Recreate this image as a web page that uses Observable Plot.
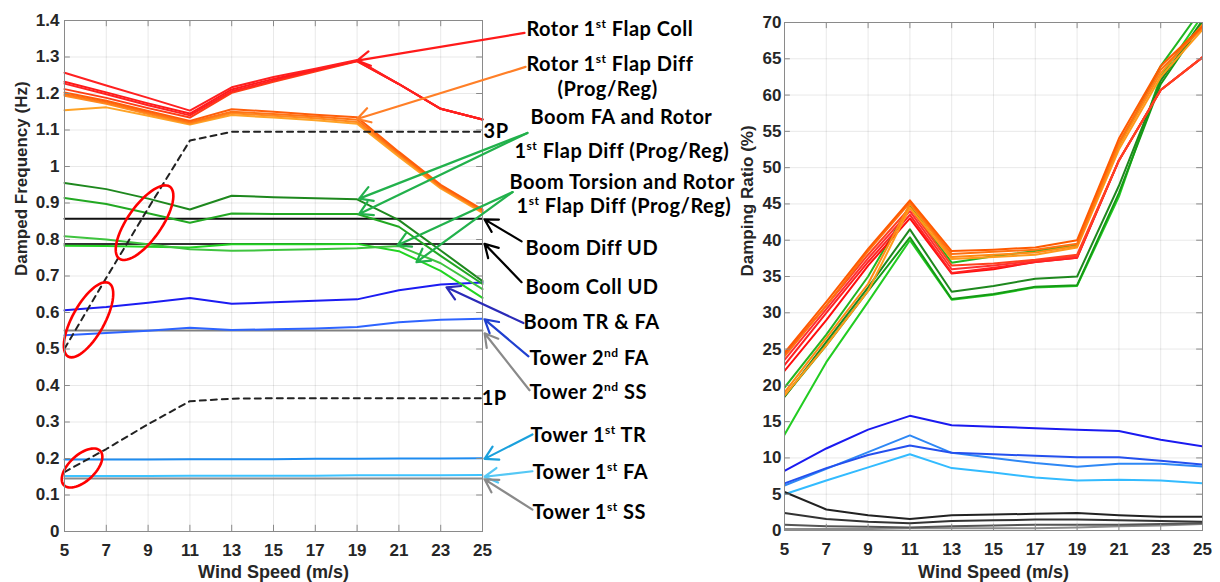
<!DOCTYPE html>
<html>
<head>
<meta charset="utf-8">
<script src="https://cdn.jsdelivr.net/npm/d3@7"></script>
<script src="https://cdn.jsdelivr.net/npm/@observablehq/plot@0.6"></script>
<style>
  body { margin: 0; background: #fff; }
  #fig { position: relative; width: 1220px; height: 582px; overflow: hidden; background: #fff; }
  .panel { position: absolute; top: 0; }
</style>
</head>
<body>
<div id="fig">
  <div id="left" class="panel" style="left:0;width:740px"></div>
  <div id="right" class="panel" style="left:735px;width:485px"></div>
</div>
<script>
// ---- wind speeds and tick labels ----
const windSpeed = [5, 7, 9, 11, 13, 15, 17, 19, 21, 23, 25];
const xTicks = [5, 7, 9, 11, 13, 15, 17, 19, 21, 23, 25];
const freqTicks = [0, 0.1, 0.2, 0.3, 0.4, 0.5, 0.6, 0.7, 0.8, 0.9, 1, 1.1, 1.2, 1.3, 1.4];
const dampTicks = [0, 5, 10, 15, 20, 25, 30, 35, 40, 45, 50, 55, 60, 65, 70];

// ---- damped frequency (Hz) ----
const flapColl1Freq = [1.257, 1.222, 1.188, 1.153, 1.217, 1.245, 1.268, 1.292, 1.226, 1.158, 1.129];
const flapColl2Freq = [1.232, 1.203, 1.173, 1.145, 1.211, 1.240, 1.266, 1.290, 1.226, 1.158, 1.129];
const flapColl3Freq = [1.227, 1.198, 1.168, 1.140, 1.206, 1.236, 1.263, 1.289, 1.226, 1.158, 1.129];
const flapColl4Freq = [1.212, 1.188, 1.160, 1.134, 1.202, 1.232, 1.260, 1.288, 1.226, 1.158, 1.129];
const flapDiff1Freq = [1.203, 1.180, 1.152, 1.125, 1.157, 1.150, 1.142, 1.135, 1.040, 0.950, 0.882];
const flapDiff2Freq = [1.198, 1.176, 1.148, 1.121, 1.150, 1.144, 1.137, 1.128, 1.036, 0.946, 0.879];
const flapDiff3Freq = [1.194, 1.172, 1.144, 1.118, 1.146, 1.139, 1.132, 1.122, 1.032, 0.943, 0.876];
const flapDiff4Freq = [1.154, 1.162, 1.139, 1.115, 1.141, 1.134, 1.127, 1.117, 1.027, 0.940, 0.873];
const boomFA1Freq = [0.955, 0.938, 0.912, 0.882, 0.920, 0.916, 0.913, 0.910, 0.853, 0.770, 0.686];
const boomFA2Freq = [0.914, 0.897, 0.872, 0.846, 0.871, 0.870, 0.870, 0.870, 0.835, 0.755, 0.678];
const boomTor1Freq = [0.809, 0.800, 0.787, 0.773, 0.769, 0.771, 0.773, 0.776, 0.782, 0.735, 0.664];
const boomTor2Freq = [0.783, 0.782, 0.780, 0.778, 0.787, 0.787, 0.787, 0.788, 0.768, 0.714, 0.640];
const boomDiffUDFreq = [0.857, 0.857, 0.857, 0.857, 0.857, 0.857, 0.857, 0.857, 0.857, 0.857, 0.857];
const boomCollUDFreq = [0.788, 0.788, 0.788, 0.788, 0.788, 0.788, 0.788, 0.788, 0.788, 0.788, 0.788];
const boomTRFAFreq = [0.606, 0.615, 0.627, 0.640, 0.624, 0.628, 0.632, 0.636, 0.661, 0.677, 0.682];
const tower2FAFreq = [0.538, 0.544, 0.550, 0.558, 0.552, 0.554, 0.556, 0.560, 0.573, 0.580, 0.583];
const tower2SSFreq = [0.551, 0.551, 0.551, 0.551, 0.551, 0.551, 0.551, 0.551, 0.551, 0.551, 0.551];
const tower1TRFreq = [0.197, 0.197, 0.197, 0.198, 0.198, 0.198, 0.199, 0.199, 0.200, 0.200, 0.201];
const tower1FAFreq = [0.152, 0.152, 0.152, 0.153, 0.153, 0.153, 0.153, 0.154, 0.154, 0.154, 0.155];
const tower1SSFreq = [0.145, 0.145, 0.145, 0.145, 0.145, 0.145, 0.145, 0.145, 0.145, 0.145, 0.145];
const rotor1P = [0.163, 0.226, 0.294, 0.357, 0.364, 0.365, 0.365, 0.365, 0.365, 0.365, 0.365];
const rotor3P = [0.501, 0.695, 0.885, 1.071, 1.095, 1.095, 1.095, 1.095, 1.095, 1.095, 1.095];

// ---- damping ratio (%) ----
const flapColl1Damp = [24.3, 31.0, 38.0, 44.5, 36.5, 36.8, 37.3, 38.0, 51.0, 60.7, 65.2];
const flapColl2Damp = [23.5, 30.5, 37.5, 44.0, 36.0, 36.5, 37.2, 37.8, 51.0, 60.7, 65.2];
const flapColl3Damp = [22.8, 30.0, 37.0, 43.5, 35.5, 36.2, 37.0, 37.6, 51.0, 60.7, 65.2];
const flapColl4Damp = [22.0, 29.0, 36.5, 43.0, 35.4, 36.0, 37.0, 37.6, 51.0, 60.7, 65.2];
const flapDiff1Damp = [24.5, 31.5, 38.8, 45.5, 38.5, 38.7, 39.0, 40.0, 54.0, 64.0, 69.5];
const flapDiff2Damp = [24.0, 31.0, 38.5, 45.2, 38.1, 38.4, 38.7, 39.5, 53.5, 63.5, 69.3];
const flapDiff3Damp = [19.0, 26.5, 34.0, 45.0, 37.7, 38.0, 38.3, 39.2, 53.0, 63.0, 69.7];
const flapDiff4Damp = [18.6, 25.5, 33.0, 44.5, 37.4, 37.7, 38.0, 39.0, 52.5, 62.5, 69.0];
const boomFA1Damp = [18.4, 26.0, 33.5, 41.5, 32.9, 33.7, 34.7, 35.0, 47.5, 62.0, 70.3];
const boomFA2Damp = [19.7, 27.0, 35.0, 44.8, 36.9, 37.8, 38.5, 39.3, 53.0, 64.0, 72.0];
const boomTor1Damp = [18.5, 25.5, 33.0, 40.4, 31.9, 32.6, 33.6, 33.8, 46.5, 61.5, 70.0];
const boomTor2Damp = [13.2, 23.2, 31.5, 40.0, 31.8, 32.5, 33.5, 33.7, 46.0, 62.5, 71.0];
const boomDiffUDDamp = [5.3, 2.9, 2.1, 1.6, 2.1, 2.2, 2.3, 2.4, 2.1, 1.9, 1.9];
const boomCollUDDamp = [2.4, 1.6, 1.2, 1.0, 1.3, 1.4, 1.5, 1.5, 1.4, 1.3, 1.2];
const boomTRFADamp = [8.2, 11.3, 13.9, 15.8, 14.5, 14.3, 14.1, 13.9, 13.7, 12.5, 11.6];
const tower2FADamp = [6.5, 8.6, 10.4, 11.7, 10.7, 10.5, 10.3, 10.1, 10.1, 9.6, 9.1];
const tower2SSDamp = [0.8, 0.6, 0.5, 0.4, 0.6, 0.7, 0.8, 0.8, 0.8, 0.9, 1.0];
const tower1TRDamp = [6.2, 8.5, 10.8, 13.1, 10.7, 10.0, 9.3, 8.8, 9.2, 9.2, 8.8];
const tower1FADamp = [5.0, 6.9, 8.7, 10.5, 8.6, 8.0, 7.3, 6.9, 7.0, 6.9, 6.5];
const tower1SSDamp = [0.2, 0.2, 0.2, 0.3, 0.3, 0.3, 0.3, 0.4, 0.6, 0.7, 0.9];

// ---- mode annotations (left panel, in wind speed / Hz units) ----
const labelText = [
  "Rotor 1{st} Flap Coll", "Rotor 1{st} Flap Diff", "(Prog/Reg)",
  "Boom FA and Rotor", "1{st} Flap Diff (Prog/Reg)",
  "Boom Torsion and Rotor", "1{st} Flap Diff (Prog/Reg)",
  "Boom Diff UD", "Boom Coll UD", "Boom TR & FA",
  "Tower 2{nd} FA", "Tower 2{nd} SS", "3P", "1P",
  "Tower 1{st} TR", "Tower 1{st} FA", "Tower 1{st} SS"
];
const labelWind = [27.10, 27.10, 28.59, 27.30, 26.53, 26.29, 26.63, 27.06, 27.06, 26.96, 27.25, 27.25, 25.05, 24.96, 27.30, 27.39, 27.39];
const labelHz = [1.374, 1.280, 1.210, 1.133, 1.040, 0.955, 0.889, 0.776, 0.669, 0.571, 0.475, 0.381, 1.095, 0.365, 0.263, 0.162, 0.052];

const arrowFromWind = [27.01, 27.06, 27.15, 27.15, 26.44, 26.44, 26.87, 26.87, 26.96, 27.20, 27.25, 27.39, 27.39, 27.39];
const arrowFromHz = [1.366, 1.273, 1.092, 1.092, 0.930, 0.930, 0.795, 0.683, 0.571, 0.480, 0.387, 0.266, 0.165, 0.060];
const arrowToWind = [19.0, 19.0, 19.1, 19.1, 20.93, 21.84, 25.1, 25.1, 23.28, 25.1, 25.1, 25.1, 25.1, 25.1];
const arrowToHz = [1.290, 1.130, 0.912, 0.870, 0.784, 0.738, 0.855, 0.788, 0.669, 0.581, 0.543, 0.199, 0.150, 0.143];

// highlighted 1P / 3P crossings
const ringWind = [5.84, 6.15, 8.83];
const ringHz = [0.174, 0.580, 0.846];

// ---- styling ----
const tickFont = "Liberation Sans, Arial, Helvetica, sans-serif";
const labelFont = "Lato, Carlito, Calibri, sans-serif";
const labelSize = 20;
const frameColor = "#8a8a8a";

const series = [
  {freq: tower1SSFreq, damp: tower1SSDamp, color: "#8c8c8c", dampColor: "#8c8c8c"},
  {freq: tower2SSFreq, damp: tower2SSDamp, color: "#808080", dampColor: "#555555"},
  {freq: tower1FAFreq, damp: tower1FADamp, color: "#3ec3ff", dampColor: "#33bbff"},
  {freq: tower1TRFreq, damp: tower1TRDamp, color: "#1e8cf0", dampColor: "#2e88f5"},
  {freq: tower2FAFreq, damp: tower2FADamp, color: "#2e64ff", dampColor: "#2450ee"},
  {freq: boomTRFAFreq, damp: boomTRFADamp, color: "#1c1cf2", dampColor: "#1a1af0"},
  {freq: boomCollUDFreq, damp: boomCollUDDamp, color: "#333333", dampColor: "#333333"},
  {freq: boomDiffUDFreq, damp: boomDiffUDDamp, color: "#111111", dampColor: "#222222"},
  {freq: boomTor2Freq, damp: boomTor2Damp, color: "#22d422", dampColor: "#22cc22"},
  {freq: boomTor1Freq, damp: boomTor1Damp, color: "#3fc43f", dampColor: "#159a15"},
  {freq: boomFA2Freq, damp: boomFA2Damp, color: "#22a822", dampColor: "#22b522"},
  {freq: boomFA1Freq, damp: boomFA1Damp, color: "#1e881e", dampColor: "#1e881e"},
  {freq: flapColl4Freq, damp: flapColl4Damp, color: "#ff3c14", dampColor: "#ff0d0d"},
  {freq: flapColl3Freq, damp: flapColl3Damp, color: "#ff2222", dampColor: "#ff2222"},
  {freq: flapColl2Freq, damp: flapColl2Damp, color: "#ff1a1a", dampColor: "#ff3030"},
  {freq: flapColl1Freq, damp: flapColl1Damp, color: "#ff2020", dampColor: "#ff4020"},
  {freq: flapDiff4Freq, damp: flapDiff4Damp, color: "#ffa326", dampColor: "#ff9a1a"},
  {freq: flapDiff3Freq, damp: flapDiff3Damp, color: "#ff8a1f", dampColor: "#ff8a14"},
  {freq: flapDiff2Freq, damp: flapDiff2Damp, color: "#ff7414", dampColor: "#ff7010"},
  {freq: flapDiff1Freq, damp: flapDiff1Damp, color: "#ff5e0a", dampColor: "#ff5a00"}
];
const arrowColors = ["#ff1a1a", "#ff7f27", "#22b14c", "#22b14c", "#22b14c", "#22b14c",
  "#000000", "#000000", "#2b2bb8", "#2040d0", "#8a8a8a", "#1aa0dc", "#55c8f5", "#8a8a8a"];

const rows = (xs, ys) => xs.map((x, i) => ({x, y: ys[i]}));

// rotated elliptical outline drawn around a point (pixel units)
function ellipseSymbol(a, b, deg) {
  const th = deg * Math.PI / 180;
  return {
    draw(ctx) {
      const n = 60;
      for (let i = 0; i <= n; i++) {
        const t = 2 * Math.PI * i / n;
        const ex = a * Math.cos(t), ey = b * Math.sin(t);
        const px = ex * Math.cos(th) - ey * Math.sin(th);
        const py = -(ex * Math.sin(th) + ey * Math.cos(th));
        if (i === 0) ctx.moveTo(px, py); else ctx.lineTo(px, py);
      }
      ctx.closePath();
    }
  };
}
const ringShapes = [ellipseSymbol(25, 13, 43), ellipseSymbol(42, 16, 61), ellipseSymbol(44, 17, 55)];

// inward tick marks on all four sides of a panel
function boxTicks(xs, ys, xDom, yDom, xLen, yLen) {
  return [
    Plot.ruleX(xs, {x: d => d, y1: yDom[0], y2: yDom[0] + yLen, stroke: frameColor}),
    Plot.ruleX(xs, {x: d => d, y1: yDom[1] - yLen, y2: yDom[1], stroke: frameColor}),
    Plot.ruleY(ys, {y: d => d, x1: xDom[0], x2: xDom[0] + xLen, stroke: frameColor}),
    Plot.ruleY(ys, {y: d => d, x1: xDom[1] - xLen, x2: xDom[1], stroke: frameColor})
  ];
}

// turn {st} / {nd} markers into raised tspans
function superscripts(svg, base) {
  const ns = "http://www.w3.org/2000/svg";
  const shift = Math.round(base * 0.38);
  svg.querySelectorAll("text").forEach(t => {
    const s = t.textContent;
    if (!s.includes("{")) return;
    const parts = s.split(/\{([^}]*)\}/);
    t.textContent = "";
    let raised = false;
    parts.forEach((p, i) => {
      if (!p) return;
      const ts = document.createElementNS(ns, "tspan");
      ts.textContent = p;
      if (i % 2 === 1) {
        ts.setAttribute("font-size", Math.round(base * 0.62) + "px");
        ts.setAttribute("dy", -shift);
        raised = true;
      } else if (raised) {
        ts.setAttribute("dy", shift);
        raised = false;
      }
      t.appendChild(ts);
    });
  });
}

const baseStyle = {
  fontFamily: tickFont, fontSize: "17px", fontWeight: "bold",
  color: "#262626", background: "transparent", overflow: "visible"
};

// ---------- left panel: damped frequency ----------
const labels = labelText.map((text, i) => ({text, x: labelWind[i], y: labelHz[i]}));
const arrows = arrowFromWind.map((x1, i) => ({x1, y1: arrowFromHz[i], x2: arrowToWind[i], y2: arrowToHz[i], c: arrowColors[i]}));
const rings = ringWind.map((x, i) => ({x, y: ringHz[i]}));

const left = Plot.plot({
  width: 740, height: 582,
  marginLeft: 64, marginRight: 258, marginTop: 20, marginBottom: 51,
  style: baseStyle,
  x: {domain: [5, 25], ticks: xTicks, tickSize: 0, tickPadding: 12, label: null, grid: true},
  y: {domain: [0, 1.4], ticks: freqTicks, tickSize: 0, tickPadding: 5, label: null, grid: true,
      tickFormat: d => String(+d.toFixed(1))},
  marks: [
    ...series.map(s => Plot.line(rows(windSpeed, s.freq), {x: "x", y: "y", stroke: s.color, strokeWidth: 2})),
    Plot.line(rows(windSpeed, rotor3P), {x: "x", y: "y", stroke: "#222", strokeWidth: 2, strokeDasharray: "6,5"}),
    Plot.line(rows(windSpeed, rotor1P), {x: "x", y: "y", stroke: "#222", strokeWidth: 2, strokeDasharray: "6,5"}),
    ...rings.map((r, i) => Plot.dot([r], {x: "x", y: "y", r: 1, symbol: ringShapes[i], fill: "none", stroke: "#ff0000", strokeWidth: 2.6})),
    Plot.frame({stroke: frameColor}),
    ...boxTicks(xTicks, freqTicks, [5, 25], [0, 1.4], 0.28, 0.017),
    Plot.arrow(arrows, {x1: "x1", y1: "y1", x2: "x2", y2: "y2", stroke: d => d.c, strokeWidth: 2.2, headLength: 10}),
    Plot.text(labels, {x: "x", y: "y", text: "text", textAnchor: "start", fill: "#000",
      fontFamily: labelFont, fontSize: labelSize, fontWeight: "bold"}),
    Plot.text(["Damped Frequency (Hz)"], {frameAnchor: "left", dx: -43, rotate: -90, text: d => d, fontSize: 17, fill: "#262626"}),
    Plot.text(["Wind Speed (m/s)"], {frameAnchor: "bottom", dy: 46, text: d => d, fontSize: 18, fill: "#262626"})
  ]
});
superscripts(left, labelSize);
left.querySelectorAll('g[font-family^="Lato"]').forEach(g => g.setAttribute("letter-spacing", "0.5"));
document.getElementById("left").appendChild(left);

// ---------- right panel: damping ratio ----------
const right = Plot.plot({
  width: 485, height: 582,
  marginLeft: 49, marginRight: 18, marginTop: 22, marginBottom: 52,
  style: baseStyle,
  x: {domain: [5, 25], ticks: xTicks, tickSize: 0, tickPadding: 12, label: null, grid: true},
  y: {domain: [0, 70], ticks: dampTicks, tickSize: 0, tickPadding: 3, label: null, grid: true},
  marks: [
    ...series.map(s => Plot.line(rows(windSpeed, s.damp), {x: "x", y: "y", stroke: s.dampColor, strokeWidth: 2, clip: true})),
    Plot.frame({stroke: frameColor}),
    ...boxTicks(xTicks, dampTicks, [5, 25], [0, 70], 0.28, 0.85),
    Plot.text(["Damping Ratio (%)"], {frameAnchor: "left", dx: -37, rotate: -90, text: d => d, fontSize: 17, fill: "#262626"}),
    Plot.text(["Wind Speed (m/s)"], {frameAnchor: "bottom", dy: 47, text: d => d, fontSize: 18, fill: "#262626"})
  ]
});
document.getElementById("right").appendChild(right);
</script>
</body>
</html>
